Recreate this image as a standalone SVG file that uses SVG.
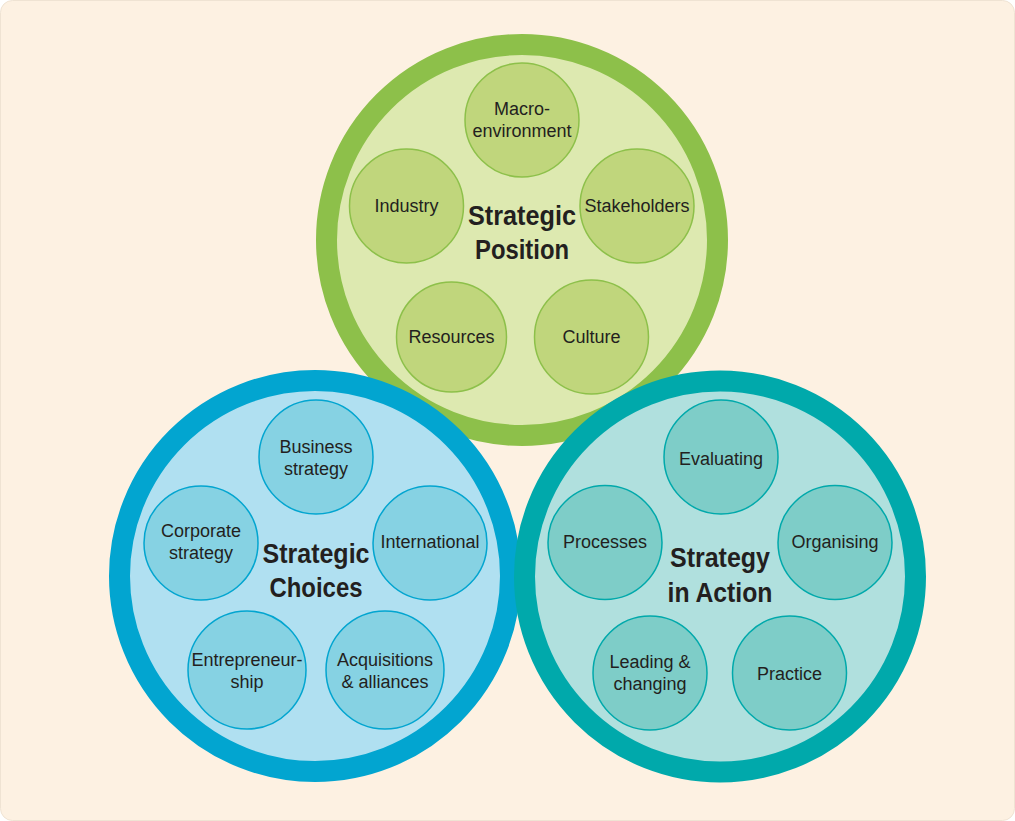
<svg xmlns="http://www.w3.org/2000/svg" width="1015" height="821" viewBox="0 0 1015 821">
<style>
.lbl{font-family:"Liberation Sans",Arial,sans-serif;font-size:18px;fill:#231f20;text-anchor:middle}
.ttl{font-family:"Liberation Sans",Arial,sans-serif;font-size:27px;font-weight:bold;fill:#231f20;text-anchor:middle}
.gBig{fill:#dde9b0;stroke:#8dc04a;stroke-width:21}
.gSm{fill:#c0d67c;stroke:#8dc04a;stroke-width:1.5}
.bBig{fill:#b0e0f1;stroke:#02a5d0;stroke-width:21}
.bSm{fill:#86d2e3;stroke:#02a5d0;stroke-width:1.5}
.tBig{fill:#b0e0de;stroke:#00a9ab;stroke-width:21}
.tSm{fill:#7ecdc8;stroke:#00a9ab;stroke-width:1.5}
</style>
<rect x="0" y="0" width="1015" height="821" fill="#ffffff"/>
<rect x="0.5" y="0.5" width="1014" height="820" rx="12" fill="#fdf1e2" stroke="#efe3d3" stroke-width="1"/>

<g id="strategic-position">
  <circle class="gBig" cx="522" cy="240" r="195.5"/>
  <g id="macro-environment"><circle class="gSm" cx="522" cy="120" r="57"/>
    <text class="lbl" x="522" y="115">Macro-</text><text class="lbl" x="522" y="137">environment</text></g>
  <g id="industry"><circle class="gSm" cx="406.5" cy="206" r="57"/>
    <text class="lbl" x="406.5" y="212">Industry</text></g>
  <g id="stakeholders"><circle class="gSm" cx="637" cy="206" r="57"/>
    <text class="lbl" x="637" y="212">Stakeholders</text></g>
  <g id="resources"><circle class="gSm" cx="451.5" cy="337" r="55"/>
    <text class="lbl" x="451.5" y="343">Resources</text></g>
  <g id="culture"><circle class="gSm" cx="591.5" cy="337" r="57"/>
    <text class="lbl" x="591.5" y="343">Culture</text></g>
  <text class="ttl" x="522" y="225" textLength="108" lengthAdjust="spacingAndGlyphs">Strategic</text>
  <text class="ttl" x="522" y="259" textLength="94" lengthAdjust="spacingAndGlyphs">Position</text>
</g>

<g id="strategic-choices">
  <circle class="bBig" cx="315" cy="576" r="195.5"/>
  <g id="business-strategy"><circle class="bSm" cx="316" cy="457" r="57"/>
    <text class="lbl" x="316" y="453">Business</text><text class="lbl" x="316" y="475">strategy</text></g>
  <g id="corporate-strategy"><circle class="bSm" cx="201" cy="543" r="57"/>
    <text class="lbl" x="201" y="537">Corporate</text><text class="lbl" x="201" y="559">strategy</text></g>
  <g id="international"><circle class="bSm" cx="430" cy="543" r="57"/>
    <text class="lbl" x="430" y="548">International</text></g>
  <g id="entrepreneurship"><circle class="bSm" cx="247" cy="670" r="59"/>
    <text class="lbl" x="247" y="666">Entrepreneur-</text><text class="lbl" x="247" y="688">ship</text></g>
  <g id="acquisitions-alliances"><circle class="bSm" cx="385" cy="670" r="59"/>
    <text class="lbl" x="385" y="666">Acquisitions</text><text class="lbl" x="385" y="688">&amp; alliances</text></g>
  <text class="ttl" x="316" y="563" textLength="107" lengthAdjust="spacingAndGlyphs">Strategic</text>
  <text class="ttl" x="316" y="597" textLength="93" lengthAdjust="spacingAndGlyphs">Choices</text>
</g>

<g id="strategy-in-action">
  <circle class="tBig" cx="720" cy="576.5" r="195.5"/>
  <g id="evaluating"><circle class="tSm" cx="721" cy="457" r="57"/>
    <text class="lbl" x="721" y="465">Evaluating</text></g>
  <g id="processes"><circle class="tSm" cx="605" cy="542.5" r="57"/>
    <text class="lbl" x="605" y="548">Processes</text></g>
  <g id="organising"><circle class="tSm" cx="835" cy="542.5" r="57"/>
    <text class="lbl" x="835" y="548">Organising</text></g>
  <g id="leading-changing"><circle class="tSm" cx="650" cy="673" r="57"/>
    <text class="lbl" x="650" y="668">Leading &amp;</text><text class="lbl" x="650" y="690">changing</text></g>
  <g id="practice"><circle class="tSm" cx="789.5" cy="673" r="57"/>
    <text class="lbl" x="789.5" y="680">Practice</text></g>
  <text class="ttl" x="720" y="567" textLength="100" lengthAdjust="spacingAndGlyphs">Strategy</text>
  <text class="ttl" x="720" y="602" textLength="105" lengthAdjust="spacingAndGlyphs">in Action</text>
</g>

<g id="connectors"></g>
</svg>
